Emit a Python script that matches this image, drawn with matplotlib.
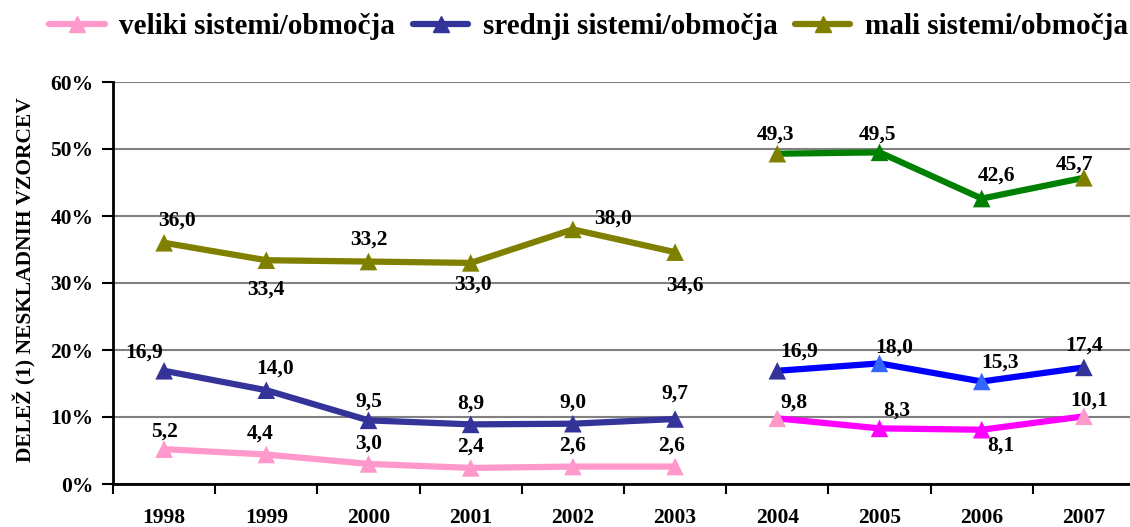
import numpy as np
import matplotlib
matplotlib.use("Agg")
import matplotlib.pyplot as plt

plt.rcParams['font.family'] = ['Liberation Serif', 'DejaVu Serif']
plt.rcParams['font.weight'] = 'bold'

years = ['1998', '1999', '2000', '2001', '2002', '2003', '2004', '2005', '2006', '2007']
veliki = [5.2, 4.4, 3.0, 2.4, 2.6, 2.6, 9.8, 8.3, 8.1, 10.1]
srednji = [16.9, 14.0, 9.5, 8.9, 9.0, 9.7, 16.9, 18.0, 15.3, 17.4]
mali = [36.0, 33.4, 33.2, 33.0, 38.0, 34.6, 49.3, 49.5, 42.6, 45.7]
names = ['veliki sistemi/območja', 'srednji sistemi/območja', 'mali sistemi/območja']

# (old colour, new line colour, new marker colour)
colours = [('#FF99CC', '#FF00FF', '#FF00FF'),
           ('#333399', '#0000FF', '#3366FF'),
           ('#808000', '#008000', '#008000')]

# label offsets in pixels (dx, dy)
offs = [
    [(0, 18), (-6, 21), (0, 20), (0, 21), (0, 21), (-4, 21), (17, 16), (17, 18), (19, -16), (5, 16)],
    [(-20, 18), (9, 22), (0, 19), (0, 21), (0, 21), (0, 25), (22, 19), (15, 16), (18, 19), (0, 22)],
    [(13, 22), (0, -29), (0, 22), (2, -22), (40, 11), (10, -33), (-2, 19), (-2, 18), (15, 23), (-9, 13)],
]

fig = plt.figure(figsize=(11.3, 5.27), dpi=100)
ax = fig.add_axes([113/1130, 1-484/527, 1022/1130, 402/527])

x = np.arange(len(years))
handles = []
for k, vals in enumerate([veliki, srednji, mali]):
    c_old, c_line, c_mk = colours[k]
    ax.plot(x[:6], vals[:6], color=c_old, lw=4.5, zorder=3, solid_capstyle='round')
    ax.plot(x[6:], vals[6:], color=c_line, lw=4.5, zorder=3, solid_capstyle='round')
    mcols = [c_old] * 6 + [c_old, c_mk, c_mk, c_old]
    ax.scatter(x, vals, marker='^', s=160, c=mcols, zorder=4, linewidths=0)
    for i, v in enumerate(vals):
        ax.annotate(('%.1f' % v).replace('.', ','), (x[i], v), xytext=offs[k][i],
                    textcoords='offset pixels', ha='center', va='center',
                    fontsize=15.5, fontweight='bold', zorder=5)
    h, = ax.plot([], [], color=c_old, lw=4.5, marker='^', markersize=12,
                 solid_capstyle='round')
    handles.append(h)

ax.set_xlim(-0.5, 9.5)
ax.set_ylim(0, 60)
ax.set_yticks(np.arange(0, 61, 10))
ax.set_yticklabels(['%d%%' % t for t in range(0, 61, 10)], fontsize=15.5)
ax.set_xticks(x)
ax.set_xticklabels(years, fontsize=15.5)
ax.set_xticks(np.arange(-0.5, 9.5, 1), minor=True)
ax.tick_params(axis='x', which='major', length=0, pad=17)
ax.tick_params(axis='x', which='minor', length=7, width=1.5, direction='out')
ax.tick_params(axis='y', length=8, width=1.5, pad=6)
ax.grid(axis='y', color='#808080', lw=1.5, zorder=0)
for s in ['top', 'right']:
    ax.spines[s].set_visible(False)
for s in ['left', 'bottom']:
    ax.spines[s].set_linewidth(2)
    ax.spines[s].set_zorder(6)

fig.text(25/1130, 1-280/527, 'DELEŽ (1) NESKLADNIH VZORCEV', rotation=90,
         ha='center', va='center', fontsize=15.5, fontweight='bold')

fig.legend(handles, names, loc='center', bbox_to_anchor=(0.521, 1-27/527), ncol=3,
           frameon=False, fontsize=21, handlelength=1.9, handletextpad=0.5,
           columnspacing=0.6, borderaxespad=0)

fig.savefig('out.png', dpi=100)
